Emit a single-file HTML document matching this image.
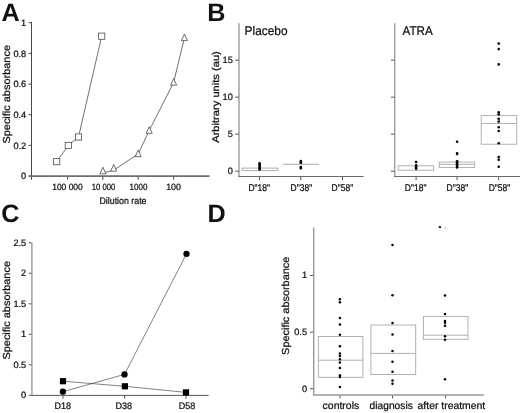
<!DOCTYPE html><html><head><meta charset="utf-8"><style>html,body{margin:0;padding:0;background:#fff}svg{display:block}svg{will-change:transform;transform:translateZ(0)}text{stroke:#000;stroke-width:0.22px;fill:#000;text-rendering:geometricPrecision;-webkit-font-smoothing:antialiased;font-family:"Liberation Sans",Arial,sans-serif;fill:#111}</style></head><body>
<svg width="520" height="413" viewBox="0 0 520 413">
<rect width="520" height="413" fill="#fff"/>
<text x="1.6" y="20.8" font-size="25.2" font-weight="bold" style="stroke:none">A</text>
<text x="207.3" y="20.5" font-size="25.2" font-weight="bold" style="stroke:none">B</text>
<text x="1.2" y="221.8" font-size="25.2" font-weight="bold" style="stroke:none">C</text>
<text x="207.5" y="221.8" font-size="25.2" font-weight="bold" style="stroke:none">D</text>
<g stroke="#333" stroke-width="0.9" fill="none">
<line x1="31.5" y1="22.1" x2="31.5" y2="179.7"/>
<line x1="28.6" y1="176.1" x2="31.5" y2="176.1"/>
<line x1="28.6" y1="145.4" x2="31.5" y2="145.4"/>
<line x1="28.6" y1="114.7" x2="31.5" y2="114.7"/>
<line x1="28.6" y1="84.1" x2="31.5" y2="84.1"/>
<line x1="28.6" y1="53.4" x2="31.5" y2="53.4"/>
<line x1="28.6" y1="22.7" x2="31.5" y2="22.7"/>
<line x1="67.6" y1="176" x2="67.6" y2="179.7"/>
<line x1="102.8" y1="176" x2="102.8" y2="179.7"/>
<line x1="138.2" y1="176" x2="138.2" y2="179.7"/>
<line x1="173.6" y1="176" x2="173.6" y2="179.7"/>
</g>
<line x1="28.6" y1="176.1" x2="209.5" y2="176.1" stroke="#6e6e6e" stroke-width="1.9"/>
<g stroke="#333" stroke-width="0.7" fill="none">
<polyline points="56.7,161.7 68.3,145.4 78.5,137 101.7,36.2"/>
<polyline points="102.9,173.0 113.7,170.2 138.2,153.9 149.2,130.6 173.6,82.5 184.4,37.9"/>
</g>
<g stroke="#4a4a4a" stroke-width="0.8" fill="#fff">
<rect x="53.6" y="158.6" width="6.2" height="6.2"/>
<rect x="65.2" y="142.3" width="6.2" height="6.2"/>
<rect x="75.4" y="133.9" width="6.2" height="6.2"/>
<rect x="98.6" y="33.1" width="6.2" height="6.2"/>
<polygon points="102.9,167.2 99.9,173.8 105.9,173.8"/>
<polygon points="113.7,164.6 110.7,171.2 116.7,171.2"/>
<polygon points="138.2,150.1 135.2,156.7 141.2,156.7"/>
<polygon points="149.2,126.7 146.2,133.3 152.2,133.3"/>
<polygon points="173.6,78.6 170.6,85.2 176.6,85.2"/>
<polygon points="184.4,34.0 181.4,40.6 187.4,40.6"/>
</g>
<text x="26.2" y="179.4" font-size="9.2" text-anchor="end">0</text>
<text x="26.2" y="148.7" font-size="9.2" text-anchor="end">0.2</text>
<text x="26.2" y="118.0" font-size="9.2" text-anchor="end">0.4</text>
<text x="26.2" y="87.4" font-size="9.2" text-anchor="end">0.6</text>
<text x="26.2" y="56.7" font-size="9.2" text-anchor="end">0.8</text>
<text x="26.2" y="26.0" font-size="9.2" text-anchor="end">1</text>
<text x="67.5" y="190.2" font-size="9" text-anchor="middle" textLength="30.6" lengthAdjust="spacingAndGlyphs">100 000</text>
<text x="103.5" y="190.2" font-size="9" text-anchor="middle" textLength="23.6" lengthAdjust="spacingAndGlyphs">10 000</text>
<text x="138.5" y="190.2" font-size="9" text-anchor="middle" textLength="17.8" lengthAdjust="spacingAndGlyphs">1000</text>
<text x="173.6" y="190.2" font-size="9" text-anchor="middle" textLength="14.8" lengthAdjust="spacingAndGlyphs">100</text>
<text x="123" y="203.8" font-size="9.6" text-anchor="middle" textLength="47" lengthAdjust="spacingAndGlyphs">Dilution rate</text>
<text transform="translate(9.8,94.3) rotate(-90)" font-size="10.2" text-anchor="middle" textLength="98.6" lengthAdjust="spacingAndGlyphs">Specific absorbance</text>
<line x1="239.0" y1="23.2" x2="239.0" y2="176.9" stroke="#a2a2a2" stroke-width="1.5"/>
<line x1="238.29999999999998" y1="176.4" x2="363.5" y2="176.4" stroke="#6a6a6a" stroke-width="1.05"/>
<g stroke="#444" stroke-width="0.9">
<line x1="235.2" y1="171.2" x2="238.9" y2="171.2"/>
<line x1="235.2" y1="134.2" x2="238.9" y2="134.2"/>
<line x1="235.2" y1="97.2" x2="238.9" y2="97.2"/>
<line x1="235.2" y1="60.2" x2="238.9" y2="60.2"/>
<line x1="259.6" y1="177" x2="259.6" y2="180.2"/>
<line x1="300.8" y1="177" x2="300.8" y2="180.2"/>
<line x1="342.5" y1="177" x2="342.5" y2="180.2"/>
</g>
<text x="259.2" y="190.6" font-size="9.8" text-anchor="middle" textLength="21.6" lengthAdjust="spacingAndGlyphs">D"18"</text>
<text x="301.4" y="190.6" font-size="9.8" text-anchor="middle" textLength="21.6" lengthAdjust="spacingAndGlyphs">D"38"</text>
<text x="342.4" y="190.6" font-size="9.8" text-anchor="middle" textLength="21.6" lengthAdjust="spacingAndGlyphs">D"58"</text>
<line x1="394.7" y1="23.2" x2="394.7" y2="176.9" stroke="#a2a2a2" stroke-width="1.5"/>
<line x1="394.0" y1="176.4" x2="520" y2="176.4" stroke="#6a6a6a" stroke-width="1.05"/>
<g stroke="#444" stroke-width="0.9">
<line x1="390.9" y1="171.2" x2="394.6" y2="171.2"/>
<line x1="390.9" y1="134.2" x2="394.6" y2="134.2"/>
<line x1="390.9" y1="97.2" x2="394.6" y2="97.2"/>
<line x1="390.9" y1="60.2" x2="394.6" y2="60.2"/>
<line x1="416.1" y1="177" x2="416.1" y2="180.2"/>
<line x1="457.1" y1="177" x2="457.1" y2="180.2"/>
<line x1="498.7" y1="177" x2="498.7" y2="180.2"/>
</g>
<text x="415.6" y="190.6" font-size="9.8" text-anchor="middle" textLength="21.6" lengthAdjust="spacingAndGlyphs">D"18"</text>
<text x="457.4" y="190.6" font-size="9.8" text-anchor="middle" textLength="21.6" lengthAdjust="spacingAndGlyphs">D"38"</text>
<text x="499.5" y="190.6" font-size="9.8" text-anchor="middle" textLength="21.6" lengthAdjust="spacingAndGlyphs">D"58"</text>
<text x="232.8" y="174.0" font-size="9.2" text-anchor="end">0</text>
<text x="232.8" y="137.0" font-size="9.2" text-anchor="end">5</text>
<text x="232.8" y="100.0" font-size="9.2" text-anchor="end">10</text>
<text x="232.8" y="63.0" font-size="9.2" text-anchor="end">15</text>
<text x="244.6" y="34.8" font-size="12.6" textLength="43" lengthAdjust="spacingAndGlyphs">Placebo</text>
<text x="402.6" y="34.8" font-size="12.6" textLength="30.2" lengthAdjust="spacingAndGlyphs">ATRA</text>
<text transform="translate(218.8,97) rotate(-90)" font-size="9.8" text-anchor="middle" textLength="91.6" lengthAdjust="spacingAndGlyphs">Arbitrary units (au)</text>
<g stroke="#a8a8a8" stroke-width="0.9" fill="none">
<rect x="242.3" y="168.1" width="35.5" height="2.5"/>
<line x1="283.2" y1="164.2" x2="319.1" y2="164.2" stroke-width="1.1"/>
<rect x="398.2" y="165.8" width="35.3" height="4.4"/>
<rect x="439.2" y="162.1" width="35.5" height="5.3"/><line x1="439.2" y1="164.4" x2="474.7" y2="164.4"/>
<rect x="481.2" y="115.6" width="35.5" height="28.6"/><line x1="481.2" y1="123.5" x2="516.7" y2="123.5"/>
</g>
<g fill="#000">
<rect x="258.3" y="162.0" width="2.6" height="8.8" rx="1.2"/>
<rect x="299.5" y="159.8" width="2.6" height="4.3" rx="1.2"/>
<rect x="299.5" y="165.7" width="2.6" height="3.8" rx="1.2"/>
<circle cx="416.1" cy="162.0" r="1.3"/>
<rect x="414.8" y="163.9" width="2.6" height="6.1" rx="1.2"/>
<circle cx="457.1" cy="141.7" r="1.3"/>
<rect x="455.8" y="152.0" width="2.6" height="3.2" rx="1.2"/>
<rect x="455.8" y="160.0" width="2.6" height="8.8" rx="1.2"/>
<circle cx="498.7" cy="43.6" r="1.3"/>
<circle cx="498.7" cy="49.1" r="1.3"/>
<circle cx="498.7" cy="64.4" r="1.3"/>
<circle cx="498.7" cy="112.3" r="1.3"/>
<circle cx="498.7" cy="114.3" r="1.3"/>
<circle cx="498.7" cy="118.8" r="1.3"/>
<circle cx="498.7" cy="121.6" r="1.3"/>
<circle cx="498.7" cy="127.2" r="1.3"/>
<circle cx="498.7" cy="131.0" r="1.3"/>
<circle cx="498.7" cy="143.2" r="1.3"/>
<circle cx="498.7" cy="157.1" r="1.3"/>
<circle cx="498.7" cy="159.8" r="1.3"/>
<circle cx="498.7" cy="166.8" r="1.3"/>
</g>
<line x1="31.9" y1="242.6" x2="31.9" y2="395.3" stroke="#999" stroke-width="1.4"/>
<g stroke="#444" stroke-width="0.9">
<line x1="28.8" y1="364.8" x2="31.5" y2="364.8"/>
<line x1="28.8" y1="334.3" x2="31.5" y2="334.3"/>
<line x1="28.8" y1="303.8" x2="31.5" y2="303.8"/>
<line x1="28.8" y1="273.3" x2="31.5" y2="273.3"/>
<line x1="28.8" y1="242.8" x2="31.5" y2="242.8"/>
<line x1="28.8" y1="395.4" x2="208.6" y2="395.4"/>
<line x1="63" y1="395.4" x2="63" y2="398.8"/>
<line x1="124.6" y1="395.4" x2="124.6" y2="398.8"/>
<line x1="186.1" y1="395.4" x2="186.1" y2="398.8"/>
</g>
<g stroke="#333" stroke-width="0.62" fill="none">
<polyline points="62.9,391.7 124.5,374.4 186.5,253.8"/>
<polyline points="63,381.2 124.9,386.3 186,392.4"/>
</g><g fill="#000">
<circle cx="62.9" cy="391.7" r="3.15"/>
<circle cx="124.5" cy="374.4" r="3.15"/>
<circle cx="186.5" cy="253.8" r="3.15"/>
<rect x="59.9" y="378.1" width="6.2" height="6.2"/>
<rect x="121.8" y="383.2" width="6.2" height="6.2"/>
<rect x="182.9" y="389.3" width="6.2" height="6.2"/>
</g>
<text x="26.2" y="398.3" font-size="9.2" text-anchor="end">0</text>
<text x="26.2" y="367.8" font-size="9.2" text-anchor="end">0.5</text>
<text x="26.2" y="337.3" font-size="9.2" text-anchor="end">1</text>
<text x="26.2" y="306.8" font-size="9.2" text-anchor="end">1.5</text>
<text x="26.2" y="276.3" font-size="9.2" text-anchor="end">2</text>
<text x="26.2" y="245.8" font-size="9.2" text-anchor="end">2.5</text>
<text x="62.8" y="409.4" font-size="9.4" text-anchor="middle" textLength="16.6" lengthAdjust="spacingAndGlyphs">D18</text>
<text x="123.7" y="409.4" font-size="9.4" text-anchor="middle" textLength="16.6" lengthAdjust="spacingAndGlyphs">D38</text>
<text x="187" y="409.4" font-size="9.4" text-anchor="middle" textLength="16.6" lengthAdjust="spacingAndGlyphs">D58</text>
<text transform="translate(9.8,310.3) rotate(-90)" font-size="10.2" text-anchor="middle" textLength="98.6" lengthAdjust="spacingAndGlyphs">Specific absorbance</text>
<polyline points="313.7,227.6 313.7,395 483.8,395" fill="none" stroke="#999" stroke-width="1.4"/>
<g stroke="#444" stroke-width="0.9">
<line x1="310" y1="388.7" x2="313.2" y2="388.7"/>
<line x1="310" y1="332.1" x2="313.2" y2="332.1"/>
<line x1="310" y1="275.5" x2="313.2" y2="275.5"/>
<line x1="340" y1="395.6" x2="340" y2="398.4"/>
<line x1="392.5" y1="395.6" x2="392.5" y2="398.4"/>
<line x1="445.6" y1="395.6" x2="445.6" y2="398.4"/>
</g>
<text x="307" y="391.5" font-size="9.2" text-anchor="end">0</text>
<text x="307" y="334.9" font-size="9.2" text-anchor="end">0.5</text>
<text x="307" y="278.3" font-size="9.2" text-anchor="end">1</text>
<g stroke="#a8a8a8" stroke-width="0.9" fill="none">
<rect x="318.4" y="336.5" width="44.5" height="40.8"/><line x1="318.4" y1="360.2" x2="362.9" y2="360.2"/>
<rect x="370.9" y="325" width="44.8" height="49.5"/><line x1="370.9" y1="353.4" x2="415.7" y2="353.4"/>
<rect x="423.4" y="316.4" width="44.5" height="22.9"/><line x1="423.4" y1="335.2" x2="467.9" y2="335.2"/>
</g><g fill="#000">
<circle cx="339.9" cy="299.2" r="1.25"/>
<circle cx="339.9" cy="302.2" r="1.25"/>
<circle cx="339.9" cy="318.0" r="1.25"/>
<circle cx="339.9" cy="324.4" r="1.25"/>
<circle cx="339.9" cy="334.7" r="1.25"/>
<circle cx="339.9" cy="346.2" r="1.25"/>
<circle cx="339.9" cy="353.4" r="1.25"/>
<circle cx="339.9" cy="355.9" r="1.25"/>
<circle cx="339.9" cy="359.3" r="1.25"/>
<circle cx="339.9" cy="362.4" r="1.25"/>
<circle cx="339.9" cy="367.9" r="1.25"/>
<circle cx="339.9" cy="375.2" r="1.25"/>
<circle cx="339.9" cy="377.1" r="1.25"/>
<circle cx="339.9" cy="386.9" r="1.25"/>
<circle cx="392.5" cy="244.9" r="1.25"/>
<circle cx="392.5" cy="295.2" r="1.25"/>
<circle cx="392.5" cy="323.1" r="1.25"/>
<circle cx="392.5" cy="334.5" r="1.25"/>
<circle cx="392.5" cy="350.9" r="1.25"/>
<circle cx="392.5" cy="361.8" r="1.25"/>
<circle cx="392.5" cy="371.7" r="1.25"/>
<circle cx="392.5" cy="380.6" r="1.25"/>
<circle cx="392.5" cy="383.7" r="1.25"/>
<circle cx="445.0" cy="295.4" r="1.25"/>
<circle cx="445.0" cy="314.1" r="1.25"/>
<circle cx="445.0" cy="321.0" r="1.25"/>
<circle cx="445.0" cy="322.7" r="1.25"/>
<circle cx="445.0" cy="325.7" r="1.25"/>
<circle cx="445.0" cy="336.2" r="1.25"/>
<circle cx="445.0" cy="339.8" r="1.25"/>
<circle cx="445.0" cy="379.2" r="1.25"/>
<rect x="438.7" y="226.2" width="2.3" height="1.7"/>
<rect x="444.6" y="227.3" width="1.2" height="1.1" fill="#888"/>
</g>
<text x="322.6" y="408.8" font-size="10.4" textLength="36.6" lengthAdjust="spacingAndGlyphs">controls</text>
<text x="369.6" y="408.8" font-size="10.4" textLength="43.2" lengthAdjust="spacingAndGlyphs">diagnosis</text>
<text x="417.6" y="408.8" font-size="10.4" textLength="67.6" lengthAdjust="spacingAndGlyphs">after treatment</text>
<text transform="translate(288.9,305.8) rotate(-90)" font-size="10.2" text-anchor="middle" textLength="98.2" lengthAdjust="spacingAndGlyphs">Specific absorbance</text>
</svg></body></html>
